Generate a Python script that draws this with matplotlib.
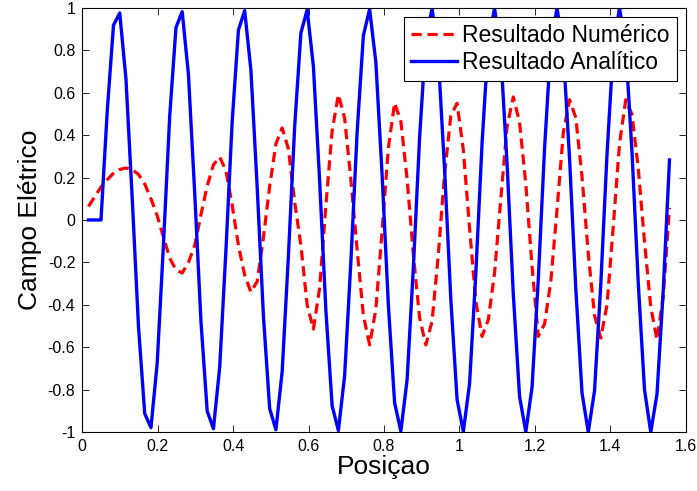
import numpy as np
import matplotlib
matplotlib.use("Agg")
import matplotlib.pyplot as plt

plt.rcParams['font.family'] = ['Liberation Sans', 'DejaVu Sans']
plt.rcParams['axes.unicode_minus'] = False

# grid spacing and number of points
dx = 0.01656
n = 94
x = dx*np.arange(1, n + 1)

# numerical solution (dashed red)
e_num = [0.064, 0.11, 0.155, 0.19, 0.22, 0.238, 0.245, 0.238, 0.215, 0.17,
         0.10, 0.02, -0.08, -0.18, -0.235, -0.25, -0.20, -0.12, 0.025, 0.16,
         0.26, 0.297, 0.232, 0.069, -0.12, -0.26, -0.34, -0.29, -0.083, 0.159,
         0.359, 0.434, 0.335, 0.085, -0.12, -0.40, -0.515, -0.32, 0.068, 0.42,
         0.591, 0.48, 0.19, -0.14, -0.45, -0.589, -0.42, -0.05, 0.34, 0.552,
         0.465, 0.193, -0.163, -0.462, -0.589, -0.477, -0.161, 0.219, 0.492, 0.55,
         0.33, -0.04, -0.384, -0.549, -0.47, -0.25, 0.10, 0.44, 0.58, 0.46,
         0.17, -0.22, -0.549, -0.49, -0.29, 0.05, 0.41, 0.567, 0.482, 0.203,
         -0.16, -0.45, -0.557, -0.40, -0.03, 0.36, 0.567, 0.497, 0.244, -0.103,
         -0.41, -0.565, -0.36, 0.057]

# analytical solution (solid blue)
e_ana = [0.0, 0.0, 0.0, 0.513, 0.918, 0.976, 0.664, 0.101, -0.501, -0.913,
         -0.979, -0.674, -0.115, 0.489, 0.907, 0.982, 0.685, 0.128, -0.477, -0.901,
         -0.984, -0.695, -0.142, 0.464, 0.895, 0.987, 0.705, 0.156, -0.452, -0.889,
         -0.989, -0.715, -0.170, 0.439, 0.882, 0.991, 0.724, 0.184, -0.427, -0.876,
         -0.993, -0.734, -0.197, 0.414, 0.869, 0.994, 0.743, 0.211, -0.401, -0.862,
         -0.996, -0.753, -0.225, 0.388, 0.854, 0.997, 0.762, 0.238, -0.376, -0.847,
         -0.998, -0.771, -0.252, 0.363, 0.840, 0.999, 0.779, 0.265, -0.350, -0.832,
         -0.999, -0.788, -0.279, 0.336, 0.824, 1.000, 0.797, 0.292, -0.323, -0.816,
         -1.000, -0.805, -0.305, 0.310, 0.808, 1.000, 0.813, 0.319, -0.297, -0.800,
         -1.000, -0.821, -0.332, 0.283]

xticks = [0, 0.2, 0.4, 0.6, 0.8, 1, 1.2, 1.4, 1.6]
xticklabels = ['0', '0.2', '0.4', '0.6', '0.8', '1', '1.2', '1.4', '1.6']
yticks = [-1, -0.8, -0.6, -0.4, -0.2, 0, 0.2, 0.4, 0.6, 0.8, 1]
yticklabels = ['-1', '-0.8', '-0.6', '-0.4', '-0.2', '0', '0.2', '0.4', '0.6', '0.8', '1']

fig = plt.figure(figsize=(6.97, 4.91), dpi=100)
ax = fig.add_axes([0.118, 0.120, 0.866, 0.864])

ax.plot(x, e_num, color='r', linestyle='--', linewidth=2.3, dashes=(3.2, 1.8),
        label='Resultado Numérico')
ax.plot(x, e_ana, color='b', linestyle='-', linewidth=2.4,
        label='Resultado Analítico')

ax.set_xlim(0, 1.6)
ax.set_ylim(-1, 1)
ax.set_xticks(xticks)
ax.set_xticklabels(xticklabels)
ax.set_yticks(yticks)
ax.set_yticklabels(yticklabels)
ax.tick_params(direction='in', top=True, right=True, length=5, width=0.6,
               labelsize=11.5, pad=5)
for s in ax.spines.values():
    s.set_linewidth(0.8)

ax.set_xlabel('Posiçao', fontsize=19, labelpad=1)
ax.set_ylabel('Campo Elétrico', fontsize=19, labelpad=4)

leg = ax.legend(loc='upper right', fontsize=16.5, fancybox=False, framealpha=1,
                edgecolor='black', borderpad=0.3, handlelength=2.0,
                handletextpad=0.25, labelspacing=0.2, borderaxespad=0.4)
leg.get_frame().set_linewidth(0.8)

fig.savefig('out.png', dpi=100)
